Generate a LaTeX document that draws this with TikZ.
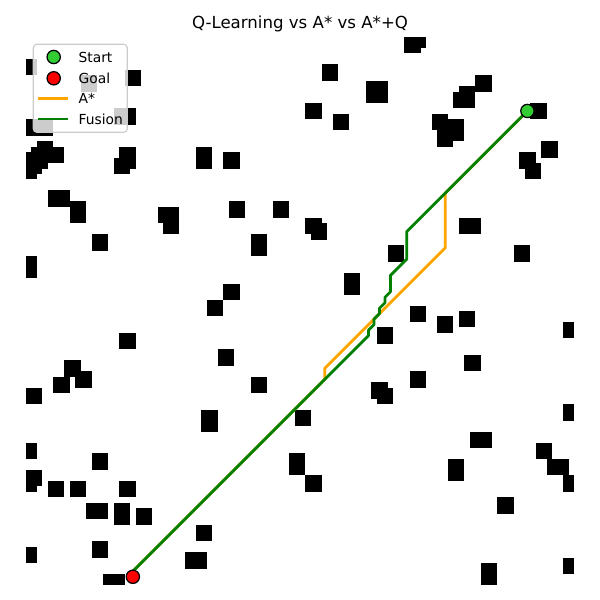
\documentclass[tikz,border=0pt]{standalone}
\usepackage{fontspec}
\setmainfont{DejaVu Sans}
\definecolor{limeg}{RGB}{50,205,50}
\definecolor{fusiong}{RGB}{0,128,0}
\definecolor{astaror}{RGB}{255,165,0}
\definecolor{legedge}{RGB}{204,204,204}
\tikzset{
  obst/.style={fill=black},
  fusionline/.style={draw=fusiong, line width=2pt, line join=round},
  astarline/.style={draw=astaror, line width=2pt, line join=round},
  startmark/.style={circle, fill=limeg, draw=black, line width=0.9pt, inner sep=0pt, minimum size=9.6pt},
  goalmark/.style={circle, fill=red, draw=black, line width=0.9pt, inner sep=0pt, minimum size=9.6pt},
  legtext/.style={anchor=west, inner sep=0pt, font=\fontsize{10}{12}\selectfont},
}
\begin{document}
\begin{tikzpicture}[x=0.139192cm, y=-0.139192cm]
\useasboundingbox (-4.7445,-6.7518) rectangle (104.745,102.737);
% obstacles
\foreach \a/\b/\c/\d in {
 0/4/2/7, 18/6/21/9, 10/7/13/10, 16/13/20/16, 0/15/5/18,
 2/19/5/21, 1/20/7/23, 0/21/7/23, 0/21/4/24, 0/21/3/25, 0/21/2/26,
 17/20/20/24, 16/22/19/25, 31/20/34/24, 36/21/39/24,
 54/5/57/8, 62/8/66/12, 51/12/54/15, 56/14/59/17,
 69/0/72/3, 72/0/73/2, 82/7/85/10, 78/10/82/13, 79/9/82/10,
 92/12/95/15, 74/14/77/17, 77/15/80/19, 75/17/78/20,
 94/19/97/22, 90/21/93/24, 91/23/94/26,
 4/28/8/31, 8/30/11/34, 24/31/28/34, 25/33/28/36, 12/36/15/39,
 0/40/2/44, 17/54/20/57, 7/59/10/62, 5/62/8/65, 9/61/12/64, 0/64/3/67,
 37/30/40/33, 45/30/48/33, 51/33/54/36, 52/34/55/37, 41/36/44/40,
 66/38/69/41, 58/43/61/47, 36/45/39/48, 33/48/36/51, 64/53/67/56,
 35/57/38/60, 41/62/44/65, 63/63/66/66, 64/64/67/67,
 79/33/83/36, 89/38/92/41, 70/49/73/52, 75/51/78/54, 79/50/82/53,
 98/52/100/55, 80/58/83/61, 70/61/73/64,
 0/74/2/77, 12/76/15/79, 0/79/3/82, 0/82/2/83, 4/81/7/84, 8/81/11/84,
 17/81/20/84, 11/85/15/88, 16/85/19/89, 20/86/23/89, 31/89/34/92,
 0/93/2/96, 12/92/15/95, 29/94/33/97, 14/98/18/100,
 32/68/35/72, 49/68/52/71, 48/76/51/80, 51/80/54/83,
 98/67/100/70, 81/72/85/75, 93/74/96/77, 95/77/99/80, 98/80/100/83,
 77/77/80/81, 86/84/89/87, 98/95/100/98, 83/96/86/100}
 {\fill[obst] (\a,\b) rectangle (\c,\d);}
% start / goal coordinates
\coordinate (S) at (91.5,13.5);
\coordinate (G) at (19.5,98.5);
% A* path
\draw[astarline] (S) -- (76.5,28.5) -- (76.5,38.5) -- (54.5,60.5) -- (54.5,62.5) -- (19.5,97.5) -- (G);
% Fusion path
\draw[fusionline] (S) -- (69.5,35.5) -- (69.5,40.5) -- (66.5,43.5) -- (66.5,46.5) -- (65.5,47.5) -- (65.5,48.5)
  -- (64.5,49.5) -- (64.5,50.5) -- (63.5,51.5) -- (63.5,52.5) -- (62.5,53.5) -- (62.5,54.5) -- (19.5,97.5) -- (G);
\node[startmark] (start) at (S) {};
\node[goalmark] (goal) at (G) {};
% legend
\draw[rounded corners=2.5pt, draw=legedge, line width=0.8pt, fill=white, fill opacity=0.8] (1.332,1.332) rectangle (18.485,17.39);
\node[startmark] (lstart) at (5.055,3.65) {};
\node[goalmark] (lgoal) at (5.055,7.536) {};
\coordinate (la1) at (2.245,11.186);
\coordinate (la2) at (7.61,11.186);
\draw[astarline] (la1) -- (la2);
\coordinate (lf1) at (2.245,14.96);
\coordinate (lf2) at (7.61,14.96);
\draw[fusionline] (lf1) -- (lf2);
\node[legtext] (tstart) at (9.544,3.65) {Start};
\node[legtext] (tgoal) at (9.544,7.536) {Goal};
\node[legtext] (tastar) at (9.544,11.186) {A*};
\node[legtext] (tfusion) at (9.544,14.96) {Fusion};
% title
\node[anchor=base, inner sep=0pt, font=\fontsize{12}{14}\selectfont] (title) at (50,-1.46) {Q-Learning vs A* vs A*+Q};
\end{tikzpicture}
\end{document}
